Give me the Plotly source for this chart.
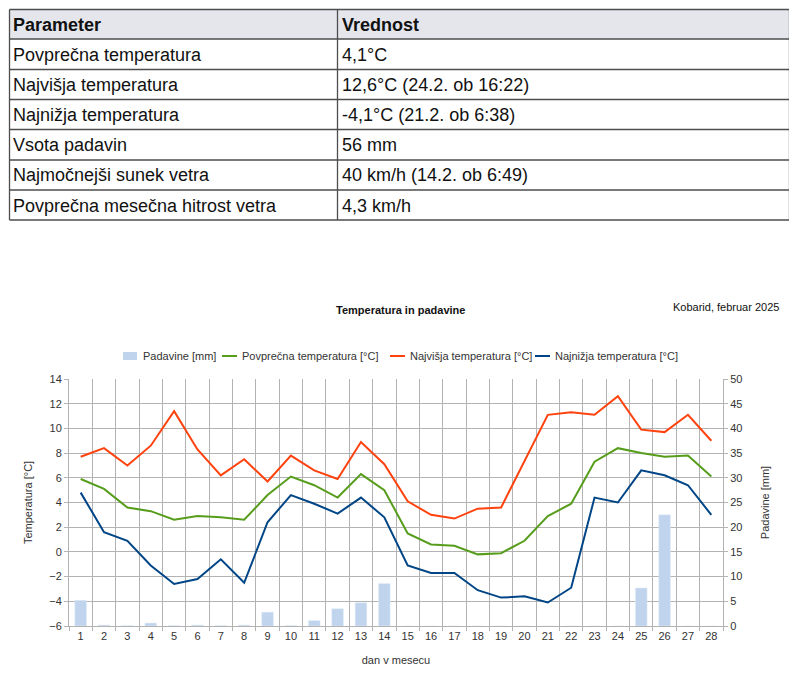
import plotly.graph_objects as go

W, H = 797, 681
OFF = 8  # page body margin of the html page
FW, FH = W - 2 * OFF, H - 2 * OFF

# table
parameters = ["Povprečna temperatura", "Najvišja temperatura", "Najnižja temperatura",
              "Vsota padavin", "Najmočnejši sunek vetra", "Povprečna mesečna hitrost vetra"]
values = ["4,1°C", "12,6°C (24.2. ob 16:22)", "-4,1°C (21.2. ob 6:38)",
          "56 mm", "40 km/h (14.2. ob 6:49)", "4,3 km/h"]

# daily data, February 2025
days = list(range(1, 29))
precip = [5.2, 0.2, 0.1, 0.6, 0.1, 0.2, 0.1, 0.2, 2.8, 0.1, 1.1, 3.5, 4.7, 8.6,
          0, 0, 0, 0, 0, 0, 0, 0, 0, 0, 7.7, 22.5, 0, 0]
t_avg = [5.9, 5.1, 3.6, 3.3, 2.6, 2.9, 2.8, 2.6, 4.6, 6.1, 5.4, 4.4, 6.3, 5.0,
         1.5, 0.6, 0.5, -0.2, -0.1, 0.9, 2.9, 3.9, 7.3, 8.4, 8.0, 7.7, 7.8, 6.1]
t_max = [7.7, 8.4, 7.0, 8.6, 11.4, 8.3, 6.2, 7.5, 5.7, 7.8, 6.6, 5.9, 8.9, 7.1,
         4.1, 3.0, 2.7, 3.5, 3.6, 7.4, 11.1, 11.3, 11.1, 12.6, 9.9, 9.7, 11.1, 9.0]
t_min = [4.8, 1.6, 0.9, -1.1, -2.6, -2.2, -0.6, -2.5, 2.4, 4.6, 3.9, 3.1, 4.4, 2.8,
         -1.1, -1.7, -1.7, -3.1, -3.7, -3.6, -4.1, -2.9, 4.4, 4.0, 6.6, 6.2, 5.4, 3.0]

font = "Liberation Sans, Arial, sans-serif"
grid = "#b3b3b3"
txt = "#333333"
bar_col = "#c0d4ee"
line_cols = ["#579d1c", "#ff420e", "#004586"]
names = ["Padavine [mm]", "Povprečna temperatura [°C]",
         "Najvišja temperatura [°C]", "Najnižja temperatura [°C]"]


def px(x):
    return (x - OFF) / FW


def py(y):
    return 1 - (y - OFF) / FH


fig = go.Figure()

# bars on the base axis so they sit behind the lines
fig.add_trace(go.Bar(x=days, y=precip, name=names[0], marker_color=bar_col,
                     width=0.5, yaxis="y"))
for series, name, col in zip([t_avg, t_max, t_min], names[1:], line_cols):
    fig.add_trace(go.Scatter(x=days, y=series, name=name, mode="lines",
                             line=dict(color=col, width=2), yaxis="y2"))

shapes = []
annotations = []

# --- table drawn with shapes + text
tx0, tx1, tsplit = 9.5, 789.5, 337.5
rows_y = [9.5, 39, 69.5, 99.5, 129.5, 160, 190, 220]
border = "#4d4d4d"
shapes.append(dict(type="rect", xref="paper", yref="paper", x0=px(tx0), x1=px(tx1),
                   y0=py(rows_y[1]), y1=py(rows_y[0]), fillcolor="#e4e6ec",
                   line=dict(width=0), layer="below"))
for yy in rows_y:
    shapes.append(dict(type="line", xref="paper", yref="paper", x0=px(tx0), x1=px(tx1),
                       y0=py(yy), y1=py(yy), line=dict(color=border, width=1.3)))
for xx in (tx0, tsplit, tx1):
    shapes.append(dict(type="line", xref="paper", yref="paper", x0=px(xx), x1=px(xx),
                       y0=py(rows_y[0]), y1=py(rows_y[-1]), line=dict(color=border, width=1.3)))
cells = [("<b>Parameter</b>", "<b>Vrednost</b>")] + list(zip(parameters, values))
for i, (a, b) in enumerate(cells):
    yc = (rows_y[i] + rows_y[i + 1]) / 2 + 0.5
    for xx, t in ((tx0 + 1, a), (tsplit + 2, b)):
        annotations.append(dict(text=t, x=px(xx), y=py(yc), xref="paper", yref="paper",
                                xanchor="left", yanchor="middle", showarrow=False,
                                font=dict(size=18, color="#111111")))

# --- legend drawn by hand (compact symbols like the original)
leg_x = [123, 222, 390, 535]
leg_y = 356
for i, (name, x0) in enumerate(zip(names, leg_x)):
    if i == 0:
        shapes.append(dict(type="rect", xref="paper", yref="paper", x0=px(x0), x1=px(x0 + 14),
                           y0=py(leg_y + 4), y1=py(leg_y - 4), fillcolor=bar_col,
                           line=dict(width=0)))
    else:
        shapes.append(dict(type="line", xref="paper", yref="paper", x0=px(x0), x1=px(x0 + 15),
                           y0=py(leg_y), y1=py(leg_y), line=dict(color=line_cols[i - 1], width=2)))
    annotations.append(dict(text=name, x=px(x0 + 18), y=py(leg_y), xref="paper", yref="paper",
                            xanchor="left", yanchor="middle", showarrow=False,
                            font=dict(size=11, color=txt)))

annotations += [
    dict(text="<b>Temperatura in padavine</b>", x=px(400), y=py(310), xref="paper",
         yref="paper", showarrow=False, font=dict(size=11, color="#111111")),
    dict(text="Kobarid, februar 2025", x=px(781), y=py(307), xanchor="right",
         xref="paper", yref="paper", showarrow=False, font=dict(size=11, color="#111111")),
]

bounds = [d - 0.5 for d in days] + [days[-1] + 0.5]
ydom = [py(626), py(379)]

fig.update_layout(
    width=FW, height=FH,
    margin=dict(l=0, r=0, t=0, b=0),
    paper_bgcolor="white", plot_bgcolor="white",
    font=dict(family=font, size=11, color=txt),
    showlegend=False,
    shapes=shapes,
    annotations=annotations,
    xaxis=dict(domain=[px(69), px(723)], range=[0.5, 28.5], tickvals=days,
               automargin=False,
               showgrid=False, showline=True, linecolor=grid, ticks="",
               tickfont=dict(size=11, color=txt),
               minor=dict(tickvals=bounds, showgrid=True, gridcolor=grid, ticks="outside",
                          ticklen=4, tickcolor=grid),
               title=dict(text="dan v mesecu", font=dict(size=11, color=txt), standoff=15)),
    yaxis=dict(domain=ydom, side="right", range=[0, 50], dtick=5, showgrid=True,
               automargin=False,
               gridcolor=grid, showline=True, linecolor=grid, ticks="outside",
               ticklen=4, tickcolor=grid, zeroline=False,
               tickfont=dict(size=11, color=txt),
               title=dict(text="Padavine [mm]", font=dict(size=11, color=txt), standoff=19)),
    yaxis2=dict(overlaying="y", side="left", range=[-6, 14], dtick=2, showgrid=False,
                automargin=False,
                showline=True, linecolor=grid, ticks="outside", ticklen=4, tickcolor=grid,
                zeroline=False, tickfont=dict(size=11, color=txt),
                title=dict(text="Temperatura [°C]", font=dict(size=11, color=txt), standoff=14)),
)

fig.write_html("out.html")
